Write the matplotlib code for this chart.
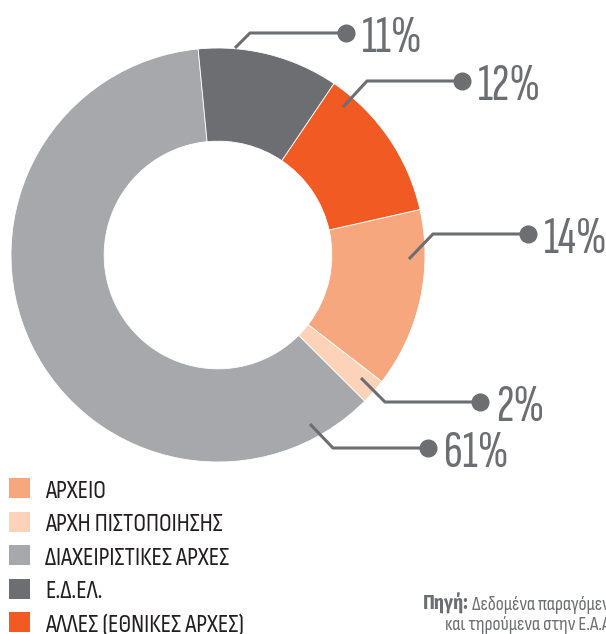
import matplotlib
matplotlib.use('Agg')
import matplotlib.pyplot as plt
import matplotlib.font_manager as fm
from matplotlib.patches import Rectangle

# ==================== 字体 ====================
names = set(f.name for f in fm.fontManager.ttflist)
bold_names = set(f.name for f in fm.fontManager.ttflist
                 if isinstance(f.weight, int) and f.weight >= 600)

def pick(cands, pool=names):
    for c in cands:
        if c in pool:
            return c
    return 'DejaVu Sans'

legend_font = pick(['Sofia Sans Condensed', 'Fira Sans Condensed', 'Roboto Condensed'])
pct_font = pick(['Sofia Sans Extra Condensed', 'Sofia Sans Condensed', 'Fira Sans Extra Condensed'])
bold_font = pick(['Sofia Sans Condensed', 'Fira Sans Condensed', 'Roboto Condensed'], bold_names)
plt.rcParams['font.family'] = [legend_font, 'DejaVu Sans']

# ==================== 数据 ====================
categories = ['ΑΡΧΕΙΟ', 'ΑΡΧΗ ΠΙΣΤΟΠΟΙΗΣΗΣ', 'ΔΙΑΧΕΙΡΙΣΤΙΚΕΣ ΑΡΧΕΣ',
              'Ε.Δ.ΕΛ.', 'ΑΛΛΕΣ (ΕΘΝΙΚΕΣ ΑΡΧΕΣ)']
values = [14, 2, 61, 11, 12]
labels = ['14%', '2%', '61%', '11%', '12%']
colors = ['#F6A77D', '#FCD2B8', '#A7A8AB', '#6D6E71', '#F15A22']
text_color = '#6D6E71'

W, H = 606, 634
fig = plt.figure(figsize=(W / 100, H / 100), dpi=100, facecolor='white')

# 圆环
cx, cy, R = 218, 255, 207
ax = fig.add_axes([(cx - R) / W, (H - cy - R) / H, 2 * R / W, 2 * R / H])
ax.pie(values, colors=colors, startangle=12.7, counterclock=False, radius=1,
       wedgeprops=dict(width=0.45, edgecolor='white', linewidth=0.6))
ax.set_xlim(-1, 1)
ax.set_ylim(-1, 1)
ax.set_aspect('equal')
ax.axis('off')

# 叠加层（像素坐标）
ov = fig.add_axes([0, 0, 1, 1], facecolor='none')
ov.set_xlim(0, W)
ov.set_ylim(H, 0)
ov.axis('off')

# 引线: (起点, 拐点, 圆点)
leaders = {
    '11%': [(235, 48), (250, 33), (346, 33)],
    '12%': [(343, 107), (367, 81), (462, 81)],
    '14%': [(409, 259), (433, 234), (528, 234)],
    '2%':  [(361, 378), (385, 402), (480, 402)],
    '61%': [(310, 424), (333, 448), (428, 448)],
}
for lab in labels:
    pts = leaders[lab]
    xs = [p[0] for p in pts]
    ys = [p[1] for p in pts]
    ov.plot(xs, ys, color=text_color, lw=2.2, solid_capstyle='butt', zorder=5)
    ov.plot(xs[-1], ys[-1], 'o', color=text_color, markersize=12, zorder=6)
    ov.text(xs[-1] + 16, ys[-1] + 1, lab, fontsize=38, color=text_color,
            family=[pct_font, 'DejaVu Sans'], ha='left', va='center_baseline', zorder=6)

# 图例
for i, (name, col) in enumerate(zip(categories, colors)):
    y = 488 + 33.6 * i
    ov.add_patch(Rectangle((9, y - 10), 21, 20, facecolor=col, edgecolor='none'))
    ov.text(45, y + 0.5, name, fontsize=18.5, color='#231F20', ha='left',
            va='center_baseline')

# 来源
src = ov.text(423, 601, 'Πηγή:', fontsize=14, color=text_color, weight='bold',
              family=[bold_font, 'DejaVu Sans'], ha='left', va='center_baseline')
ov.annotate(' Δεδομένα παραγόμενα', xy=(1, 0), xycoords=src, fontsize=14,
            color=text_color, ha='left', va='bottom')
ov.text(445, 623, 'και τηρούμενα στην Ε.Α.Α.', fontsize=14, color=text_color,
        ha='left', va='center_baseline')

plt.savefig('out.png', dpi=100, facecolor='white')
